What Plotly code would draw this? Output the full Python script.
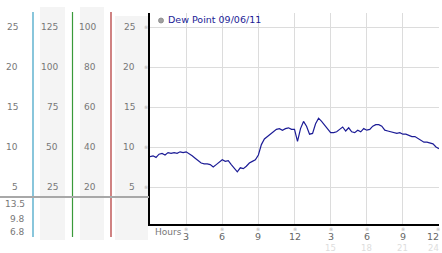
import plotly.graph_objects as go

W, H = 442, 253

hours = [i * 0.25 for i in range(97)]
dew_point = [
    8.8, 8.9, 8.7, 9.1, 9.2, 9.0, 9.3, 9.2, 9.3, 9.2, 9.4, 9.3, 9.4, 9.2, 8.9, 8.6,
    8.3, 8.0, 7.9, 7.9, 7.8, 7.5, 7.8, 8.1, 8.4, 8.2, 8.3, 7.8, 7.3, 6.9, 7.4, 7.3,
    7.6, 8.0, 8.2, 8.4, 9.0, 10.3, 11.0, 11.3, 11.6, 11.9, 12.2, 12.3, 12.1, 12.3, 12.4, 12.2,
    12.2, 10.7, 12.3, 13.2, 12.6, 11.6, 11.7, 12.9, 13.6, 13.2, 12.7, 12.3, 11.8, 11.8, 11.9, 12.2,
    12.5, 12.0, 12.4, 11.9, 11.8, 12.1, 11.9, 12.3, 12.1, 12.2, 12.6, 12.8, 12.8, 12.6, 12.1, 12.0,
    11.9, 11.8, 11.7, 11.8, 11.6, 11.6, 11.4, 11.3, 11.3, 11.1, 10.9, 10.6, 10.6, 10.5, 10.4, 10.0,
    9.8,
]

y_grid = [5, 10, 15, 20, 25]
col1_labels = ["5", "10", "15", "20", "25"]
col2_labels = ["25", "50", "75", "100", "125"]
col3_labels = ["20", "40", "60", "80", "100"]
col4_labels = ["5", "10", "15", "20", "25"]
bottom_labels = ["13.5", "9.8", "6.8"]
x_ticks = [3, 6, 9, 12, 15, 18, 21, 24]
x_tick_text = ["3", "6", "9", "12", "3", "6", "9", "12"]
x_tick_text2 = ["15", "18", "21", "24"]
series_name = "Dew Point 09/06/11"

FONT = "DejaVu Sans"


def px(x):
    return x / W


def py(y):
    return 1 - y / H


fig = go.Figure()
fig.add_trace(go.Scatter(x=hours, y=dew_point, mode="lines",
                         line=dict(color="#1c1c96", width=1.2),
                         hoverinfo="skip", showlegend=False))

shapes = []
for x0, x1, y0, y1 in [(40, 65, 7, 240), (80, 104, 7, 240), (115, 148, 16, 240)]:
    shapes.append(dict(type="rect", xref="paper", yref="paper",
                       x0=px(x0), x1=px(x1), y0=py(y1), y1=py(y0),
                       fillcolor="#f4f4f4", line=dict(width=0), layer="below"))
for x, c in [(33, "#3aa0c4"), (72.5, "#3a9a3a"), (111, "#b03030")]:
    shapes.append(dict(type="line", xref="paper", yref="paper",
                       x0=px(x), x1=px(x), y0=py(237), y1=py(12),
                       line=dict(color=c, width=1.2)))
shapes.append(dict(type="line", xref="paper", yref="paper",
                   x0=0, x1=px(149), y0=py(197), y1=py(197),
                   line=dict(color="#a8a8a8", width=2)))

ann = []
lab_font = dict(family=FONT, size=9, color="#777777")
for labels, xr in [(col1_labels, 20), (col2_labels, 60), (col3_labels, 98), (col4_labels, 137)]:
    for v, t in zip(y_grid, labels):
        ann.append(dict(x=px(xr), y=v, xref="paper", yref="y", text=t,
                        showarrow=False, xanchor="right", yanchor="middle",
                        font=lab_font))
for v in y_grid:
    ann.append(dict(x=px(145.5), y=v, xref="paper", yref="y", text="※",
                    showarrow=False, xanchor="center", yanchor="middle",
                    font=dict(family=FONT, size=5, color="#b0b0b0")))
for t, yy in zip(bottom_labels, [204, 218.5, 232]):
    ann.append(dict(x=px(27), y=py(yy), xref="paper", yref="paper", text=t,
                    showarrow=False, xanchor="right", yanchor="middle",
                    font=lab_font))
for i, (xv, t) in enumerate(zip(x_ticks, x_tick_text)):
    last = i == len(x_ticks) - 1
    xx = px(437.5) if last else xv
    xr = "paper" if last else "x"
    ann.append(dict(x=xx, y=py(228.5), xref=xr, yref="paper", text="※",
                    showarrow=False, xanchor="center", yanchor="middle",
                    font=dict(family=FONT, size=5, color="#b0b0b0")))
    ann.append(dict(x=px(441) if last else xv, y=py(236.5), xref=xr, yref="paper", text=t,
                    showarrow=False, xanchor="right" if last else "center",
                    yanchor="middle",
                    font=dict(family=FONT, size=9.5, color="#666666")))
for i, (xv, t) in enumerate(zip(x_ticks[4:], x_tick_text2)):
    last = i == len(x_tick_text2) - 1
    ann.append(dict(x=px(441) if last else xv, y=py(247.5),
                    xref="paper" if last else "x", yref="paper", text=t,
                    showarrow=False, xanchor="right" if last else "center",
                    yanchor="middle",
                    font=dict(family=FONT, size=8.5, color="#dddddd")))
ann.append(dict(x=px(153), y=py(232), xref="paper", yref="paper", text="Hours",
                showarrow=False, xanchor="left", yanchor="middle",
                font=dict(family=FONT, size=9, color="#777777")))
ann.append(dict(x=px(165.5), y=py(20), xref="paper", yref="paper", text=series_name,
                showarrow=False, xanchor="left", yanchor="middle",
                font=dict(family=FONT, size=9.5, color="#1c1c96")))
shapes.append(dict(type="circle", xref="paper", yref="paper",
                   x0=px(158.5), x1=px(163.5), y0=py(23), y1=py(18),
                   fillcolor="#a0a0a0", line=dict(color="#888888", width=0.8)))

fig.update_layout(
    width=W, height=H,
    margin=dict(l=0, r=0, t=0, b=0),
    paper_bgcolor="white", plot_bgcolor="white",
    shapes=shapes, annotations=ann,
    showlegend=False,
    xaxis=dict(domain=[px(150), px(439)], range=[0, 24],
               tickvals=x_ticks, showticklabels=False, ticks="",
               showgrid=True, gridcolor="#dcdcdc", gridwidth=1,
               showline=True, linecolor="black", linewidth=2, zeroline=False,
               fixedrange=True),
    yaxis=dict(domain=[py(224), py(13)], range=[0.375, 26.75],
               tickvals=y_grid, showticklabels=False, ticks="",
               showgrid=True, gridcolor="#dcdcdc", gridwidth=1,
               showline=True, linecolor="black", linewidth=2, zeroline=False,
               fixedrange=True),
)

fig.write_html("out.html", config={"displayModeBar": False})
